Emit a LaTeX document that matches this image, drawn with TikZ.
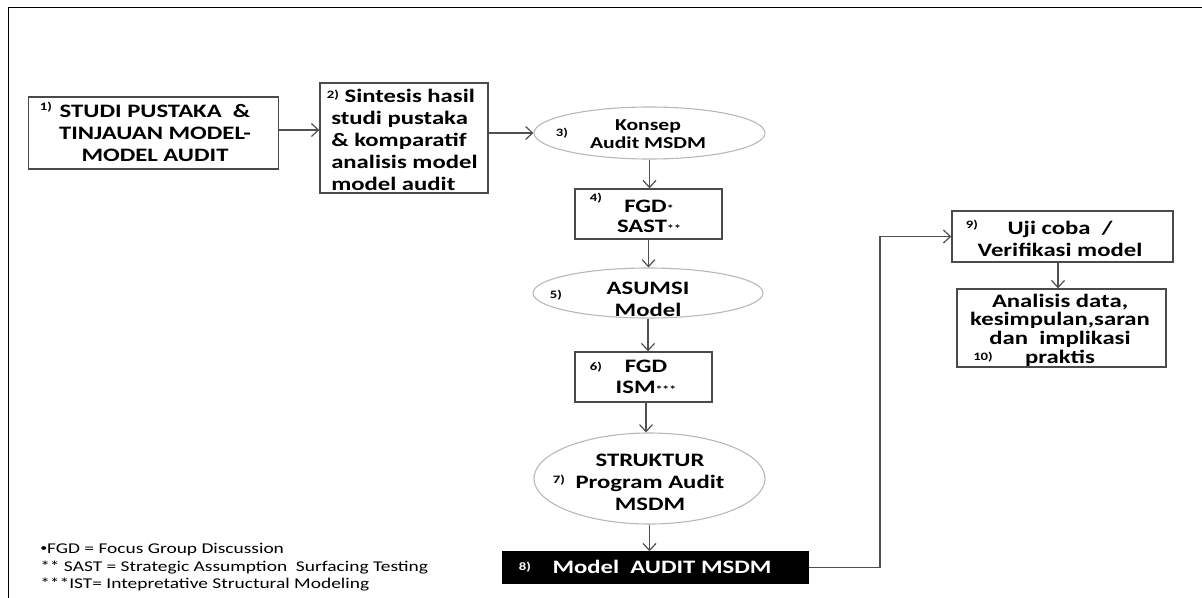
\documentclass[tikz,border=0pt]{standalone}
\usepackage{fontspec}
\setmainfont{Carlito}[FakeStretch=1.3]
\usetikzlibrary{shapes.geometric,arrows.meta}
\newcommand\pxu{*0.75pt}
\definecolor{boxgray}{HTML}{4A4A4A}
\definecolor{ellgray}{HTML}{B8B8B8}
\definecolor{arrgray}{HTML}{505050}
\newcommand\mainsz{\fontsize{14.25}{16.5}\selectfont\bfseries}
\newcommand\ellsz{\fontsize{12.5}{13}\selectfont\bfseries}
\newcommand\numsz{\fontsize{8.5}{9}\selectfont\bfseries}
\newcommand\notesz{\fontsize{11.2}{12.6}\selectfont}
\newcommand\stars[1]{{\fontsize{8}{8}\selectfont #1}}
\tikzset{
  box/.style={draw=boxgray, line width=1.4\pxu, inner sep=0pt},
  ell/.style={ellipse, draw=ellgray, line width=1.1\pxu, inner sep=0pt},
  txt/.style={inner sep=0pt, align=center, font=\mainsz},
  num/.style={inner sep=0pt, font=\numsz},
  conn/.style={draw=arrgray, line width=1.3\pxu, -{Straight Barb[length=7\pxu,width=13\pxu,line width=1.2\pxu]}},
  note/.style={inner sep=0pt, anchor=west, font=\notesz}
}
\begin{document}
\begin{tikzpicture}[x=0.75pt,y=-0.75pt]
\useasboundingbox (0,0) rectangle (1202,597);
\draw[line width=1.6\pxu] (1203,7.5) -- (8.5,7.5) -- (8.5,598);
% shapes
\node[box, minimum width=250\pxu, minimum height=72\pxu] (b1) at (153.5,133) {};
\node[box, minimum width=168\pxu, minimum height=110\pxu] (b2) at (404,138) {};
\node[ell, minimum width=231\pxu, minimum height=52\pxu] (e3) at (649.5,133) {};
\node[box, minimum width=147\pxu, minimum height=50\pxu] (b4) at (648.5,214) {};
\node[ell, minimum width=230\pxu, minimum height=50\pxu] (e5) at (648,293) {};
\node[box, minimum width=137\pxu, minimum height=50\pxu] (b6) at (643.5,377) {};
\node[ell, minimum width=231\pxu, minimum height=91\pxu] (e7) at (649.5,478.5) {};
\node[box, fill=black, draw=black, minimum width=305\pxu, minimum height=31\pxu] (b8) at (655.5,567.5) {};
\node[box, minimum width=221\pxu, minimum height=51\pxu] (b9) at (1062.5,236.5) {};
\node[box, minimum width=209\pxu, minimum height=78\pxu] (b10) at (1061.5,328) {};
% texts
\node[txt] (t1) at (155,133) {STUDI PUSTAKA~~\&\\TINJAUAN MODEL-\\MODEL AUDIT};
\node[txt, align=left, anchor=west] (t2) at (331,140) {\hspace*{10pt}Sintesis hasil\\studi pustaka\\\& komparatif\\analisis model\\model audit};
\node[txt, font=\ellsz] (t3) at (648,134) {Konsep\\Audit MSDM};
\node[txt, font={\fontsize{14.25}{15}\selectfont\bfseries}] (t4) at (649,216) {FGD\stars{*}\\SAST\stars{**}};
\node[txt] (t5) at (648,299) {ASUMSI\\Model};
\node[txt, font={\fontsize{14.25}{15.5}\selectfont\bfseries}] (t6) at (646,377) {FGD\\ISM\stars{***}};
\node[txt] (t7) at (650,482) {STRUKTUR\\Program Audit\\MSDM};
\node[txt, text=white] (t8) at (662,567) {Model~~AUDIT MSDM};
\node[txt] (t9) at (1060,239) {Uji coba~~/\\Verifikasi model};
\node[txt, font={\fontsize{14.25}{14}\selectfont\bfseries}] (t10) at (1060,330) {Analisis data,\\kesimpulan,saran\\dan~~implikasi\\praktis};
% numbers
\node[num] (n1) at (46,107) {1)};
\node[num] (n2) at (333,95) {2)};
\node[num] (n3) at (562,133) {3)};
\node[num] (n4) at (596,198) {4)};
\node[num] (n5) at (556,295) {5)};
\node[num] (n6) at (596,367) {6)};
\node[num] (n7) at (559,480) {7)};
\node[num, text=white] (n8) at (525,567) {8)};
\node[num] (n9) at (972,225) {9)};
\node[num] (n10) at (983,357) {10)};
% connectors
\draw[conn] (b1.east |- 0,130) -- (b2.west |- 0,130);
\draw[conn] (b2.east |- e3.west) -- (e3.west);
\draw[conn] (e3.south) -- (e3.south |- b4.north);
\draw[conn] (b4.south) -- (b4.south |- e5.north);
\draw[conn] (e5.south) -- (e5.south |- b6.north);
\draw[conn] (b6.south -| 646,0) -- (e7.north -| 646,0);
\draw[conn] (e7.south) -- (e7.south |- b8.north);
\draw[conn] (b8.east) -- (880,567.5) |- (b9.west);
\draw[conn] (b9.south -| 1058,0) -- (b10.north -| 1058,0);
% notes
\node[note] (f1) at (40,550) {\raisebox{1.8pt}{\fontsize{8}{8}\selectfont •}FGD = Focus Group Discussion};
\node[note] (f2) at (40,567) {** SAST = Strategic Assumption~~Surfacing Testing};
\node[note] (f3) at (40,584) {***IST= Intepretative Structural Modeling};
\end{tikzpicture}
\end{document}
